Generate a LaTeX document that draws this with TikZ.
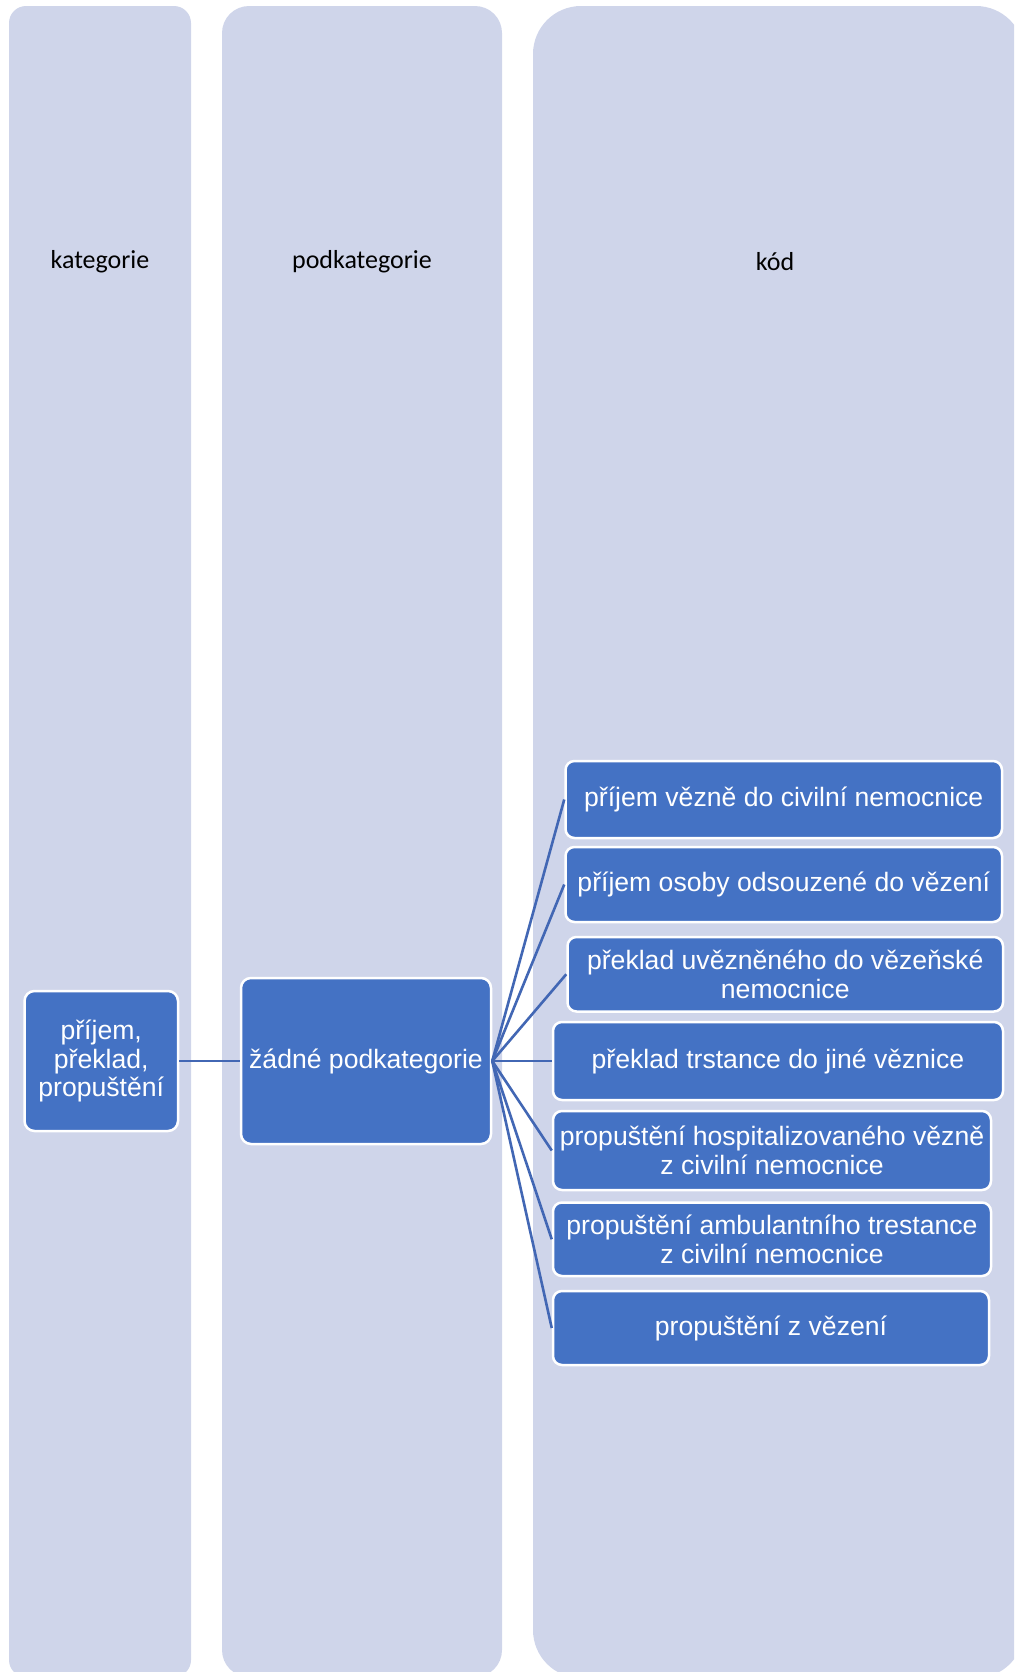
\documentclass[tikz,border=0pt]{standalone}
\usepackage{fontspec}
\setmainfont{Liberation Sans}
\newfontfamily\hlavfont{Carlito}
\usepackage{xcolor}
\definecolor{sloupec}{RGB}{207,213,234}
\definecolor{uzel}{RGB}{68,114,196}
\definecolor{spoj}{RGB}{66,103,180}

\begin{document}
\begin{tikzpicture}[x=0.5pt,y=0.5pt]
				\tikzstyle{every node}+=[inner sep=0pt]
				\tikzstyle{box}=[draw=white, line width=1.25pt, fill=uzel, rounded corners=4.5pt, text=white, align=center, font=\fontsize{13.3}{14.4}\selectfont]
				\tikzstyle{hlava}=[text=black, font=\hlavfont\fontsize{13}{15}\selectfont]
				\tikzstyle{spojka}=[spoj, line width=1.3pt]
				\useasboundingbox (0,0) rectangle (1014,-1672);
				\clip (0,0) rectangle (1014,-1672);
				\fill [sloupec, rounded corners=8.5pt] (9,-6) rectangle (191,-1677);
				\fill [sloupec, rounded corners=13.5pt] (222,-6) rectangle (502,-1677);
				\fill [sloupec, rounded corners=24pt] (533,-6) rectangle (1024,-1678);
				\node [hlava] (kat) at (100,-262) {kategorie};
				\node [hlava] (podkat) at (362,-262) {podkategorie};
				\node [hlava] (kod) at (775,-262) {kód};
				\node [box, minimum width=76.75pt, minimum height=70pt, rounded corners=5pt] (prijem) at (101.25,-1061) {příjem,\\překlad,\\propuštění};
				\node [box, minimum width=125pt, minimum height=83pt, rounded corners=5pt] (zadne) at (366,-1061) {žádné podkategorie};
				\node [box, minimum width=218.25pt, minimum height=38.5pt] (k1) at (783.75,-799.5) {příjem vězně do civilní nemocnice};
				\node [box, minimum width=218.25pt, minimum height=37.5pt] (k2) at (783.75,-884.5) {příjem osoby odsouzené do vězení};
				\node [box, minimum width=217.75pt, minimum height=37.25pt] (k3) at (785.25,-974.25) {překlad uvězněného do vězeňské\\nemocnice};
				\node [box, minimum width=225pt, minimum height=39pt] (k4) at (778,-1061) {překlad trstance do jiné věznice};
				\node [box, minimum width=219pt, minimum height=39.5pt] (k5) at (772,-1150.5) {propuštění hospitalizovaného vězně\\z civilní nemocnice};
				\node [box, minimum width=219pt, minimum height=36.75pt] (k6) at (772,-1239.25) {propuštění ambulantního trestance\\z civilní nemocnice};
				\node [box, minimum width=218pt, minimum height=37pt] (k7) at (771,-1328) {propuštění z vězení};
				\draw [spojka] (prijem.east) -- (zadne.west);
				\draw [spojka] (zadne.east) -- (k1.west);
				\draw [spojka] (zadne.east) -- (k2.west);
				\draw [spojka] (zadne.east) -- (k3.west);
				\draw [spojka] (zadne.east) -- (k4.west);
				\draw [spojka] (zadne.east) -- (k5.west);
				\draw [spojka] (zadne.east) -- (k6.west);
				\draw [spojka] (zadne.east) -- (k7.west);
				\end{tikzpicture}
\end{document}
